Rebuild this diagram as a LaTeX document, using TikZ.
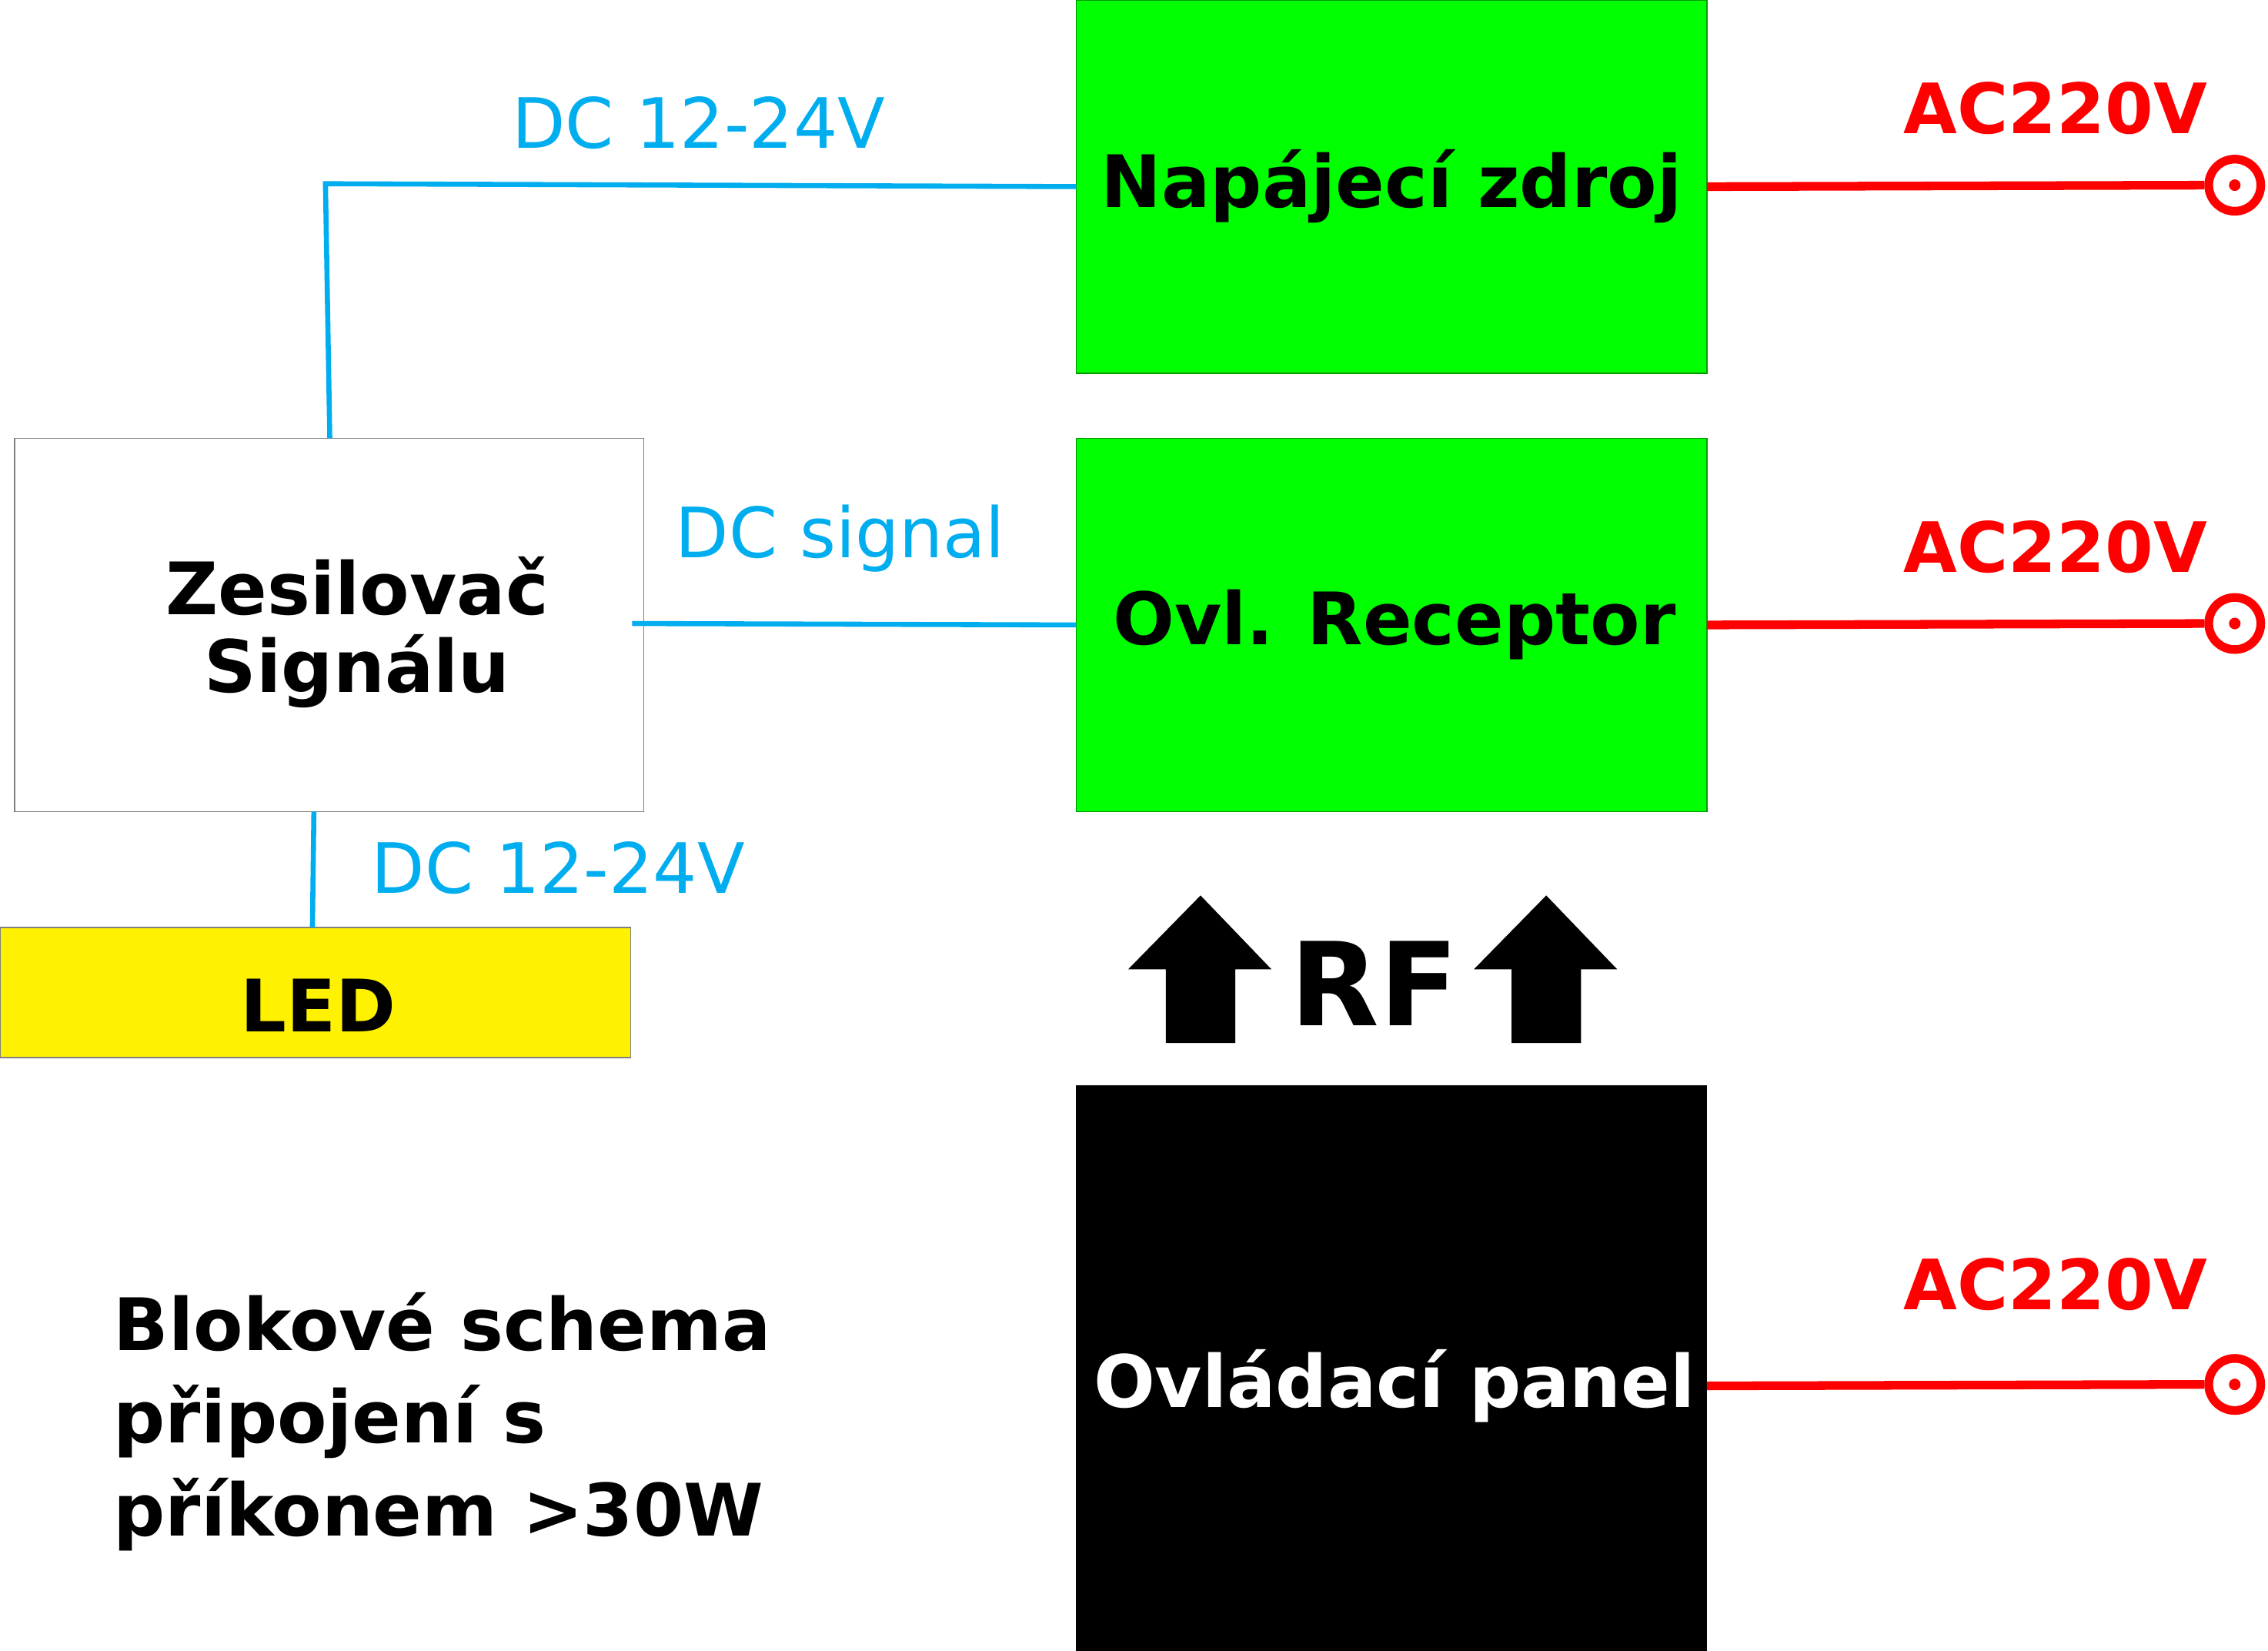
\documentclass[tikz,border=0pt]{standalone}
\usepackage{fontspec}
\setmainfont{DejaVu Sans}
\begin{document}
\begin{tikzpicture}[x=1pt,y=-1pt,
 box/.style={draw=#1!70!black,line width=1pt},
 lbl/.style={font=\fontsize{50}{60}\selectfont\bfseries,align=center},
 cy/.style={cyan,line width=3.5pt},
 cyt/.style={cyan,font=\fontsize{48}{56}\selectfont},
 rd/.style={red,line width=6pt},
 rdt/.style={red,font=\fontsize{48}{56}\selectfont\bfseries},
 term/.style={circle,draw=red,line width=6pt,minimum size=36pt,inner sep=0pt}]
\useasboundingbox (0,0) rectangle (1568,1141);
\fill[green] (744,0) rectangle (1180,258);
\draw[green!60!black,line width=0.8pt] (744,0) rectangle (1180,258);
\node[lbl] (nz) at (962,129) {Napájecí zdroj};
\fill[green] (744,303) rectangle (1180,561);
\draw[green!60!black,line width=0.8pt] (744,303) rectangle (1180,561);
\node[lbl] (or) at (964,432) {Ovl. Receptor};
\draw[gray,line width=0.8pt] (10,303) rectangle (445,561);
\node[lbl,text width=400pt] (zs) at (247,437) {Zesilovač\\[-6pt]Signálu};
\fill[yellow] (0,641) rectangle (436,731);
\draw[gray,line width=0.8pt] (0,641) rectangle (436,731);
\node[lbl] (led) at (220,695) {LED};
\fill[black] (744,750) rectangle (1180,1141);
\node[lbl,white] (op) at (964,958) {Ovládací panel};
% cyan
\coordinate (c1) at (228,303); \coordinate (c2) at (225,127); \coordinate (c3) at (744,129);
\draw[cy] (c1) -- (c2) -- (c3);
\node[cyt] (t1) at (483,85) {DC 12-24V};
\coordinate (c4) at (437,431); \coordinate (c5) at (744,432);
\draw[cy] (c4) -- (c5);
\node[cyt] (t2) at (581,372) {DC signal};
\coordinate (c6) at (217,561); \coordinate (c7) at (216,641);
\draw[cy] (c6) -- (c7);
\node[cyt] (t3) at (386,600) {DC 12-24V};
% red
\foreach \y/\n in {129/a,432/b,958/c}{
 \node[term] (T\n) at (1545,\y-1) {};
 \fill[red] (T\n) circle (4pt);
 \coordinate (S\n) at (1180,\y);
 \draw[rd] (S\n) -- (T\n.west);
}
\node[rdt] at (1421,75) {AC220V};
\node[rdt] at (1421,378) {AC220V};
\node[rdt] at (1421,888) {AC220V};
% RF arrows
\foreach \cx in {830,1069}{
 \fill[black] (\cx-24,721) -- (\cx-24,670) -- (\cx-50,670) -- (\cx,619) -- (\cx+49,670) -- (\cx+24,670) -- (\cx+24,721) -- cycle;
}
\node[font=\fontsize{80}{90}\selectfont\bfseries] (rf) at (950,680) {RF};
\node[font=\fontsize{50}{64}\selectfont\bfseries,align=left,anchor=north west] (bl) at (75,890) {Blokové schema\\připojení s\\příkonem >30W};
\end{tikzpicture}
\end{document}
